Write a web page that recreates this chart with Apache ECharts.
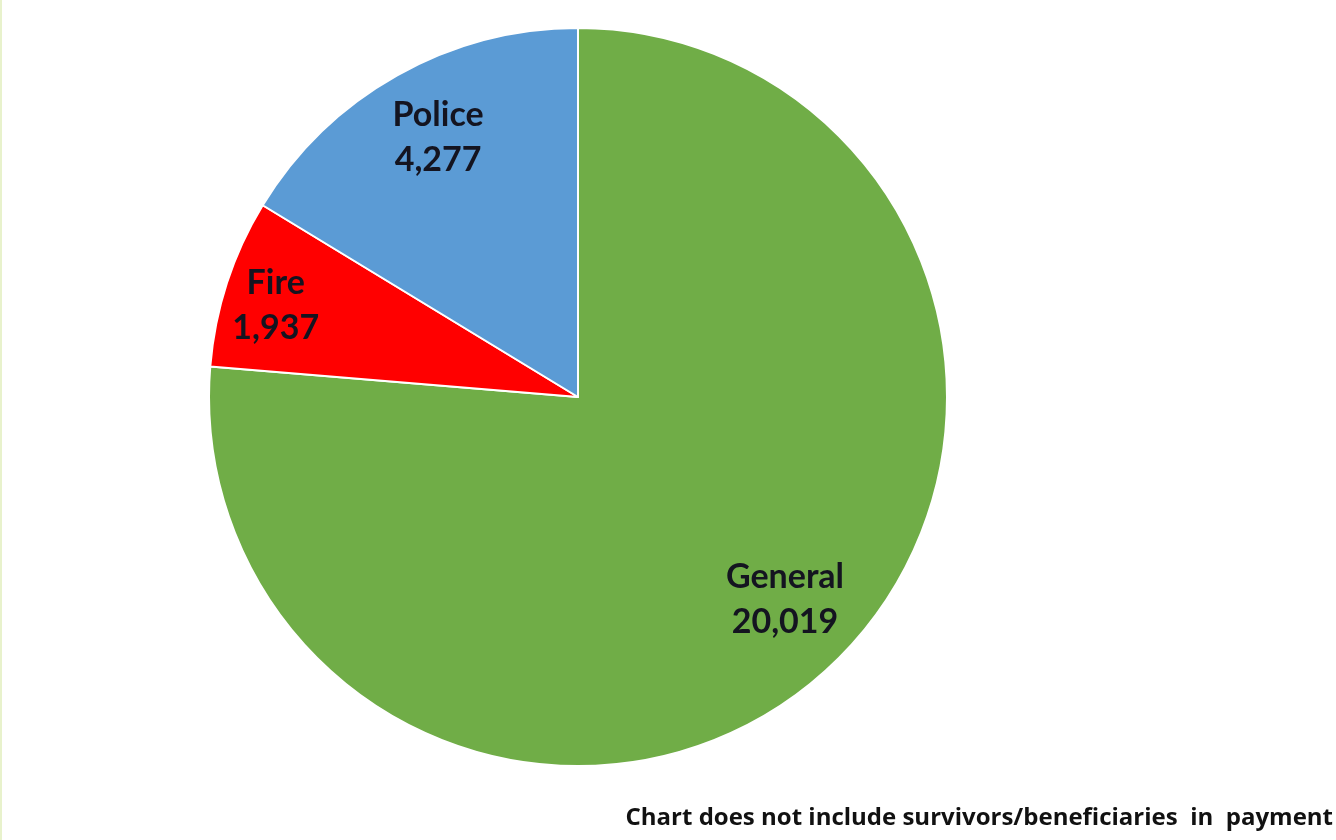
<!DOCTYPE html>
<html>
<head>
<meta charset="utf-8">
<title>Members by plan</title>
<script src="https://cdn.jsdelivr.net/npm/echarts@6/dist/echarts.min.js"></script>
<style>
  html, body { margin: 0; padding: 0; background: #ffffff; }
  #chart { position: absolute; left: 0; top: 0; width: 1336px; height: 840px; }
  #edge { position: absolute; left: 0; top: 0; width: 2px; height: 840px; background: #e8f2cc; z-index: 2; }
</style>
</head>
<body>
<div id="chart"></div>
<div id="edge"></div>
<script>
// Plan membership counts, drawn clockwise from 12 o'clock
const categories = ['General', 'Fire', 'Police'];
const members = [20019, 1937, 4277];
const sliceColors = ['#70AD47', '#FF0000', '#5B9BD5'];
const footnote = 'Chart does not include survivors/beneficiaries  in  payment';

// Nudges that move each label outward from the default inside spot
const labelShift = [[80, 65], [-124, -33], [-48, -96]];

const fmt = v => v.toLocaleString('en-US');

const chart = echarts.init(document.getElementById('chart'), null, { renderer: 'canvas' });

chart.setOption({
  animation: false,
  backgroundColor: '#ffffff',
  title: {
    text: footnote,
    right: 3,
    top: 806,
    padding: 0,
    textStyle: {
      fontFamily: 'Open Sans',
      fontWeight: 'bold',
      fontSize: 24,
      color: '#111111'
    }
  },
  series: [{
    type: 'pie',
    center: [578, 397],
    radius: [0, 369],
    startAngle: 90,
    clockwise: true,
    avoidLabelOverlap: false,
    data: categories.map((name, i) => ({
      name: name,
      value: members[i],
      itemStyle: { color: sliceColors[i] }
    })),
    itemStyle: { borderColor: '#ffffff', borderWidth: 2 },
    label: {
      show: true,
      position: 'inside',
      formatter: p => p.name + '\n' + fmt(p.value),
      fontFamily: 'Lato',
      fontWeight: 'bold',
      fontSize: 34,
      lineHeight: 45,
      color: '#141420',
      align: 'center'
    },
    labelLine: { show: false },
    labelLayout: p => ({ dx: labelShift[p.dataIndex][0], dy: labelShift[p.dataIndex][1] }),
    emphasis: { disabled: true }
  }]
});
</script>
</body>
</html>
